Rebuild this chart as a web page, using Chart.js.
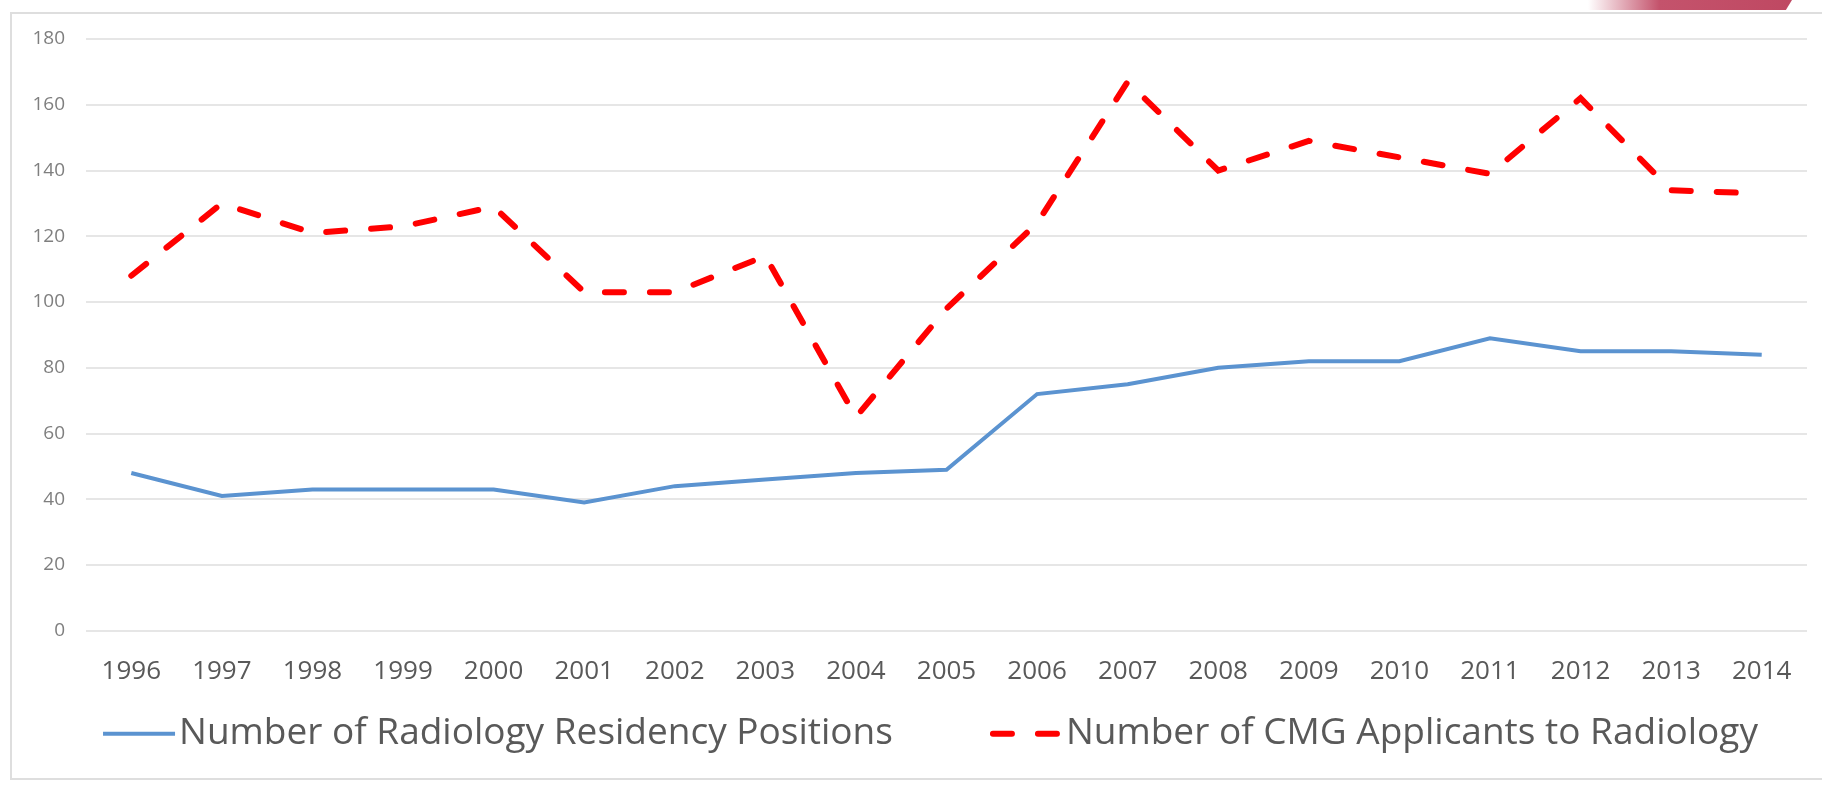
<!DOCTYPE html>
<html>
<head>
<meta charset="utf-8">
<title>Radiology residency positions vs CMG applicants</title>
<script src="https://cdn.jsdelivr.net/npm/chart.js@4"></script>
<style>
  html, body { margin: 0; padding: 0; background: #fff; }
  #wrap { position: relative; width: 1822px; height: 785px; overflow: hidden; background: #fff; }
  #frame {
    position: absolute; left: 10px; top: 12px; width: 1840px; height: 768px;
    border: 2px solid #dedede; box-sizing: border-box;
  }
  #ribbon {
    position: absolute; left: 1588px; top: 0; width: 204px; height: 10px;
    background: linear-gradient(to right, rgba(196, 84, 110, 0), #c4536c 35%, #bf4862);
    clip-path: polygon(0 0, 100% 0, 97% 100%, 0 100%);
  }
  #box { position: absolute; left: 0; top: 0; width: 1822px; height: 785px; }
</style>
</head>
<body>
<div id="wrap">
  <div id="frame"></div>
  <div id="ribbon"></div>
  <div id="box"><canvas id="myChart"></canvas></div>
</div>
<script>
const years = ['1996', '1997', '1998', '1999', '2000', '2001', '2002', '2003', '2004', '2005',
               '2006', '2007', '2008', '2009', '2010', '2011', '2012', '2013', '2014'];
const residencyPositions = [48, 41, 43, 43, 43, 39, 44, 46, 48, 49, 72, 75, 80, 82, 82, 89, 85, 85, 84];
const cmgApplicants = [108, 130, 121, 123, 129, 103, 103, 114, 65, 98, 124, 167, 140, 149, 144, 139, 162, 134, 133];
const yTicks = [0, 20, 40, 60, 80, 100, 120, 140, 160, 180];

const FONT = '"Open Sans", "DejaVu Sans", sans-serif';

// legend drawn by hand so the sample line sits right against the text, like the original
const bottomLegend = {
    id: 'bottomLegend',
    afterDraw: (chart) => {
        const { ctx, chartArea } = chart;
        const sample = 72, gap = 4, between = 97;
        ctx.save();
        ctx.font = '37px ' + FONT;
        const items = chart.data.datasets.map(ds => ({
            ds, w: sample + gap + ctx.measureText(ds.label).width
        }));
        const total = items.reduce((s, it) => s + it.w, 0) + between * (items.length - 1);
        let x = (chartArea.left + chartArea.right) / 2 - 16 - total / 2;
        const y = chartArea.bottom + 103;

        items.forEach(({ ds, w }) => {
            ctx.strokeStyle = ds.borderColor;
            ctx.lineWidth = ds.borderWidth;
            ctx.lineCap = ds.borderCapStyle || 'butt';
            ctx.setLineDash(ds.borderDash || []);
            ctx.beginPath();
            ctx.moveTo(x + (ds.borderDash ? 3 : 0), y);
            ctx.lineTo(x + sample, y);
            ctx.stroke();
            ctx.setLineDash([]);

            ctx.fillStyle = '#595959';
            ctx.textAlign = 'left';
            ctx.textBaseline = 'middle';
            ctx.fillText(ds.label, x + sample + gap, y);
            x += w + between;
        });
        ctx.restore();
    }
};

const ctx = document.getElementById('myChart').getContext('2d');
new Chart(ctx, {
    type: 'line',
    data: {
        labels: years,
        datasets: [
            {
                label: 'Number of Radiology Residency Positions',
                data: residencyPositions,
                borderColor: '#5b93d0',
                backgroundColor: '#5b93d0',
                borderWidth: 4,
                pointRadius: 0,
                tension: 0
            },
            {
                label: 'Number of CMG Applicants to Radiology',
                data: cmgApplicants,
                borderColor: '#ff0000',
                backgroundColor: '#ff0000',
                borderWidth: 6,
                borderDash: [19, 26],
                borderCapStyle: 'round',
                pointRadius: 0,
                tension: 0
            }
        ]
    },
    plugins: [bottomLegend],
    options: {
        responsive: true,
        maintainAspectRatio: false,
        animation: false,
        layout: {
            padding: { left: 0, right: 15, top: 39, bottom: 73 }
        },
        plugins: {
            legend: { display: false },
            tooltip: { enabled: false }
        },
        scales: {
            x: {
                offset: true,
                grid: { display: false, drawTicks: false },
                border: { display: false },
                ticks: {
                    color: '#595959',
                    font: { family: FONT, size: 26 },
                    padding: 25,
                    maxRotation: 0,
                    autoSkip: false
                }
            },
            y: {
                min: 0,
                max: 180,
                afterFit: (scale) => { scale.width = 86; },
                afterBuildTicks: (scale) => { scale.ticks = yTicks.map(v => ({ value: v })); },
                grid: { color: '#e6e6e6', lineWidth: 2, drawTicks: false },
                border: { display: false },
                ticks: {
                    color: '#7f7f7f',
                    font: { family: FONT, size: 19 },
                    padding: 21
                }
            }
        }
    }
});
</script>
</body>
</html>
